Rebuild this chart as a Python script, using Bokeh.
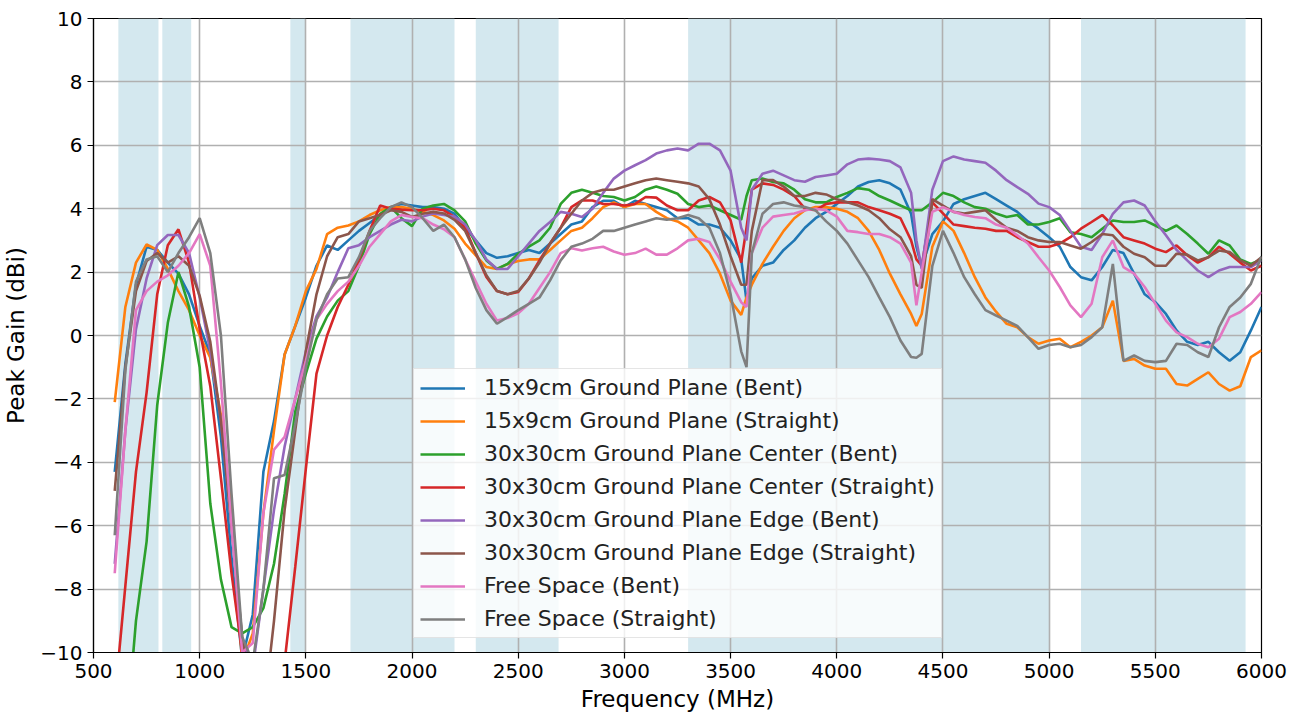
from bokeh.plotting import figure
from bokeh.models import BoxAnnotation, Legend, LegendItem, FixedTicker, Range1d
from bokeh.embed import file_html
from bokeh.resources import INLINE

freq = [600, 650, 700, 750, 800, 850, 900, 950, 1000, 1050,
        1100, 1150, 1200, 1250, 1300, 1350, 1400, 1450, 1500, 1550,
        1600, 1650, 1700, 1750, 1800, 1850, 1900, 1950, 2000, 2050,
        2100, 2150, 2200, 2250, 2300, 2350, 2400, 2450, 2500, 2550,
        2600, 2650, 2700, 2750, 2800, 2850, 2900, 2950, 3000, 3050,
        3100, 3150, 3200, 3250, 3300, 3350, 3400, 3450, 3500, 3550,
        3575, 3600, 3650, 3700, 3750, 3800, 3850, 3900, 3950, 4000,
        4050, 4100, 4150, 4200, 4250, 4300, 4350, 4375, 4400, 4450,
        4500, 4550, 4600, 4650, 4700, 4750, 4800, 4850, 4900, 4950,
        5000, 5050, 5100, 5150, 5200, 5250, 5300, 5350, 5400, 5450,
        5500, 5550, 5600, 5650, 5700, 5750, 5800, 5850, 5900, 5950,
        6000]

gp15_bent = [-4.3, -0.9, 1.6, 2.8, 2.7, 2.3, 1.95, 1.3, 0.3, -0.6,
             -3.2, -7.0, -10.2, -8.8, -4.3, -2.7, -0.6, 0.3, 1.2, 2.2,
             2.84, 2.7, 3.0, 3.3, 3.55, 3.8, 4.05, 4.15, 4.1, 4.05,
             4.05, 4.0, 3.84, 3.4, 3.0, 2.6, 2.45, 2.5, 2.6, 2.7,
             2.6, 2.9, 3.2, 3.5, 3.6, 4.05, 4.25, 4.25, 4.05, 4.25,
             4.15, 4.05, 3.95, 3.7, 3.7, 3.5, 3.5, 3.4, 3.0, 2.4,
             1.1, 1.8, 2.2, 2.3, 2.7, 3.0, 3.4, 3.7, 3.9, 4.15,
             4.4, 4.7, 4.84, 4.9, 4.8, 4.6, 3.84, 2.8, 2.16, 3.2,
             3.6, 4.15, 4.3, 4.4, 4.5, 4.3, 4.1, 3.9, 3.6, 3.37,
             3.1, 2.8, 2.16, 1.84, 1.74, 2.16, 2.7, 2.6, 1.95, 1.3,
             1.05, 0.68, 0.16, -0.2, -0.3, -0.2, -0.53, -0.8, -0.53, 0.16,
             0.9]

gp15_straight = [-2.1, 0.9, 2.3, 2.87, 2.7, 2.1, 1.4, 0.8, 0.0, -0.7,
                 -2.5, -5.5, -10.3, -9.4, -5.6, -3.0, -0.6, 0.3, 1.4, 2.1,
                 3.2, 3.4, 3.47, 3.6, 3.8, 3.95, 4.05, 4.05, 4.0, 3.9,
                 3.8, 3.63, 3.37, 2.9, 2.53, 2.16, 2.1, 2.25, 2.35, 2.4,
                 2.4, 2.7, 3.0, 3.3, 3.4, 3.7, 4.05, 4.2, 4.05, 4.15,
                 4.15, 3.9, 3.7, 3.6, 3.4, 3.0, 2.6, 1.95, 1.1, 0.65,
                 1.2, 1.6, 2.26, 2.8, 3.3, 3.7, 3.95, 4.05, 4.05, 4.0,
                 3.9, 3.7, 3.3, 2.7, 1.95, 1.3, 0.68, 0.3, 0.68, 2.8,
                 3.6, 3.3, 2.6, 1.84, 1.2, 0.75, 0.37, 0.26, -0.05, -0.26,
                 -0.16, -0.1, -0.37, -0.2, 0.0, 0.26, 1.1, -0.8, -0.74, -0.95,
                 -1.05, -1.05, -1.53, -1.58, -1.37, -1.16, -1.53, -1.74, -1.6, -0.68,
                 -0.47]

center_bent = [-16.0, -13.0, -9.0, -6.5, -2.2, 0.4, 2.0, 0.9, -1.0, -5.3,
               -7.7, -9.2, -9.4, -9.2, -8.6, -7.2, -5.0, -2.4, -1.2, -0.1,
               0.6, 1.1, 1.4, 2.2, 3.2, 3.84, 4.05, 3.7, 3.45, 4.0,
               4.1, 4.15, 3.95, 3.6, 2.9, 2.37, 2.1, 2.26, 2.58, 2.8,
               3.0, 3.4, 4.15, 4.5, 4.6, 4.5, 4.4, 4.37, 4.26, 4.37,
               4.6, 4.7, 4.6, 4.47, 4.15, 4.05, 4.1, 3.95, 3.8, 3.65,
               4.4, 4.9, 4.95, 4.84, 4.8, 4.6, 4.3, 4.2, 4.2, 4.37,
               4.5, 4.65, 4.6, 4.4, 4.26, 4.1, 3.95, 3.95, 3.95, 4.2,
               4.5, 4.4, 4.2, 4.05, 4.0, 3.85, 3.74, 3.8, 3.5, 3.5,
               3.58, 3.7, 3.26, 3.2, 3.1, 3.37, 3.63, 3.58, 3.58, 3.63,
               3.47, 3.3, 3.47, 3.2, 2.9, 2.58, 3.0, 2.84, 2.4, 2.26,
               2.4]

center_straight = [-11.5, -7.9, -4.3, -1.8, 1.3, 2.85, 3.35, 2.3, 0.2, -1.6,
                   -4.5, -7.5, -10.0, -14.0, -13.0, -11.5, -10.3, -7.3, -4.2, -1.2,
                   0.0, 0.9, 1.6, 2.4, 3.3, 4.1, 4.0, 3.97, 3.95, 3.95,
                   4.0, 3.95, 3.74, 3.4, 2.6, 1.85, 1.4, 1.3, 1.37, 1.8,
                   2.37, 2.9, 3.4, 4.05, 4.26, 4.26, 4.15, 4.15, 4.1, 4.15,
                   4.37, 4.35, 4.1, 3.95, 3.95, 4.26, 4.37, 4.2, 3.63, 2.3,
                   3.4, 4.6, 4.8, 4.75, 4.6, 4.4, 4.0, 3.95, 4.15, 4.2,
                   4.2, 4.2, 4.05, 3.95, 3.84, 3.7, 3.0, 2.4, 2.2, 4.2,
                   3.85, 3.5, 3.45, 3.4, 3.37, 3.3, 3.3, 3.1, 2.95, 2.8,
                   2.8, 2.9, 3.1, 3.37, 3.58, 3.8, 3.47, 3.1, 3.0, 2.9,
                   2.74, 2.63, 2.84, 2.53, 2.3, 2.47, 2.8, 2.58, 2.3, 2.05,
                   2.2]

edge_bent = [-7.2, -3.0, 0.2, 1.8, 2.85, 3.17, 3.17, 2.6, 1.2, -0.5,
             -2.7, -6.0, -9.6, -10.5, -8.0, -5.5, -3.5, -2.0, -0.5, 0.6,
             1.2, 2.0, 2.75, 2.85, 3.1, 3.3, 3.5, 3.65, 3.6, 3.75,
             3.85, 3.8, 3.75, 3.5, 3.0, 2.4, 2.1, 2.1, 2.5, 2.9,
             3.3, 3.58, 3.9, 3.84, 3.74, 4.0, 4.5, 4.95, 5.2, 5.37,
             5.53, 5.74, 5.84, 5.9, 5.84, 6.05, 6.05, 5.84, 5.2, 3.4,
             3.0, 4.6, 5.1, 5.2, 5.05, 4.9, 4.85, 5.0, 5.05, 5.1,
             5.4, 5.55, 5.58, 5.55, 5.5, 5.3, 4.5, 3.0, 2.1, 4.6,
             5.5, 5.65, 5.55, 5.5, 5.45, 5.2, 4.9, 4.68, 4.47, 4.16,
             4.05, 3.8, 3.3, 2.8, 2.7, 3.2, 3.84, 4.2, 4.26, 4.1,
             3.6, 3.16, 2.7, 2.37, 2.05, 1.84, 2.05, 2.16, 2.16, 2.16,
             2.37]

edge_straight = [-4.9, -1.0, 1.4, 2.35, 2.6, 2.3, 2.5, 2.2, 1.25, -0.2,
                 -2.7, -6.0, -9.5, -12.0, -12.0, -9.0, -5.5, -3.0, -0.5, 1.3,
                 2.5, 3.1, 3.2, 3.6, 3.7, 3.8, 3.95, 3.9, 3.74, 3.84,
                 3.9, 3.85, 3.65, 3.3, 2.6, 1.9, 1.4, 1.3, 1.4, 1.8,
                 2.3, 2.9, 3.4, 3.84, 4.26, 4.5, 4.6, 4.6, 4.7, 4.8,
                 4.9, 4.95, 4.9, 4.85, 4.8, 4.7, 4.3, 3.5, 2.5, 1.6,
                 1.6, 3.3, 4.9, 4.9, 4.7, 4.4, 4.4, 4.5, 4.45, 4.3,
                 4.2, 4.1, 3.95, 3.7, 3.35, 3.1, 2.5, 1.6, 1.5, 4.3,
                 4.1, 3.9, 3.85, 3.9, 3.95, 3.65, 3.4, 3.3, 3.1, 3.0,
                 2.95, 2.95, 2.84, 2.74, 2.95, 3.2, 3.16, 2.8, 2.58, 2.47,
                 2.2, 2.2, 2.58, 2.55, 2.37, 2.47, 2.68, 2.63, 2.37, 2.2,
                 2.47]

free_bent = [-7.5, -3.0, 0.8, 1.4, 1.7, 1.9, 2.2, 2.6, 3.2, 2.2,
             -1.5, -6.0, -10.0, -9.7, -5.6, -3.6, -3.2, -2.0, -0.8, 0.5,
             1.0, 1.4, 1.7, 2.2, 2.8, 3.2, 3.6, 3.8, 3.74, 3.7,
             3.5, 3.35, 3.1, 2.4, 1.7, 1.0, 0.47, 0.55, 0.7, 1.0,
             1.5, 2.0, 2.6, 2.75, 2.68, 2.75, 2.8, 2.65, 2.55, 2.6,
             2.74, 2.55, 2.55, 2.75, 3.0, 3.05, 2.95, 2.4, 1.7, 1.05,
             0.9, 2.6, 3.4, 3.75, 3.8, 3.85, 3.95, 4.0, 3.95, 3.75,
             3.3, 3.26, 3.2, 3.2, 3.1, 2.9, 2.3, 0.95, 2.0, 3.9,
             4.05, 3.9, 3.8, 3.74, 3.7, 3.5, 3.4, 3.16, 2.9, 2.47,
             2.05, 1.53, 0.95, 0.58, 1.0, 2.47, 3.0, 2.16, 1.95, 1.53,
             1.0, 0.47, 0.1, -0.05, -0.26, -0.37, -0.1, 0.58, 0.74, 1.0,
             1.37]

free_straight = [-6.3, -1.1, 1.7, 2.4, 2.5, 2.0, 2.6, 3.1, 3.7, 2.6,
                 0.0, -5.0, -9.5, -10.3, -8.0, -4.5, -4.4, -2.8, -1.0, 0.5,
                 1.3, 1.8, 1.84, 2.47, 3.3, 3.7, 4.05, 4.2, 4.05, 3.7,
                 3.3, 3.5, 3.1, 2.4, 1.5, 0.8, 0.37, 0.58, 0.8, 1.0,
                 1.2, 1.74, 2.37, 2.8, 2.9, 3.05, 3.3, 3.3, 3.4, 3.5,
                 3.6, 3.7, 3.65, 3.7, 3.8, 3.7, 3.4, 2.6, 1.3, -0.5,
                 -1.0, 2.6, 3.84, 4.15, 4.2, 4.1, 4.05, 3.95, 3.6, 3.3,
                 2.9, 2.37, 1.84, 1.2, 0.58, -0.16, -0.68, -0.7, -0.58, 2.2,
                 3.3, 2.6, 1.84, 1.3, 0.8, 0.63, 0.47, 0.3, -0.05, -0.42,
                 -0.3, -0.26, -0.37, -0.3, -0.05, 0.26, 2.26, -0.8, -0.63, -0.8,
                 -0.84, -0.8, -0.26, -0.3, -0.53, -0.68, 0.26, 0.9, 1.2, 1.63,
                 2.5]

labels = ["15x9cm Ground Plane (Bent)",
          "15x9cm Ground Plane (Straight)",
          "30x30cm Ground Plane Center (Bent)",
          "30x30cm Ground Plane Center (Straight)",
          "30x30cm Ground Plane Edge (Bent)",
          "30x30cm Ground Plane Edge (Straight)",
          "Free Space (Bent)",
          "Free Space (Straight)"]
series = [gp15_bent, gp15_straight, center_bent, center_straight,
          edge_bent, edge_straight, free_bent, free_straight]
colors = ["#1f77b4", "#ff7f0e", "#2ca02c", "#d62728",
          "#9467bd", "#8c564b", "#e377c2", "#7f7f7f"]

band_starts = [617, 824, 1427, 1710, 2300, 3300, 5150]
band_ends = [806, 960, 1496, 2200, 2690, 5000, 5925]

x_ticks = [500, 1000, 1500, 2000, 2500, 3000, 3500, 4000, 4500, 5000, 5500, 6000]
y_ticks = [-10, -8, -6, -4, -2, 0, 2, 4, 6, 8, 10]

FONT = "DejaVu Sans"

p = figure(width=1302, height=724, x_range=Range1d(500, 6000), y_range=Range1d(-10, 10),
           output_backend="svg", toolbar_location=None,
           min_border_left=93, min_border_right=41, min_border_top=18, min_border_bottom=72)

for a, b in zip(band_starts, band_ends):
    p.add_layout(BoxAnnotation(left=a, right=b, fill_color="#d4e8ef", fill_alpha=1.0,
                               line_alpha=0, level="image"))

p.xgrid.ticker = FixedTicker(ticks=x_ticks)
p.ygrid.ticker = FixedTicker(ticks=y_ticks)
p.grid.grid_line_color = "#b0b0b0"
p.grid.grid_line_width = 1.6

items = []
for lab, ys, c in zip(labels, series, colors):
    r = p.line(freq, ys, line_color=c, line_width=2.6)
    items.append(LegendItem(label=lab, renderers=[r]))

p.xaxis.ticker = FixedTicker(ticks=x_ticks)
p.yaxis.ticker = FixedTicker(ticks=y_ticks)
p.xaxis.axis_label = "Frequency (MHz)"
p.yaxis.axis_label = "Peak Gain (dBi)"
for ax in (p.xaxis, p.yaxis):
    ax.axis_label_text_font = FONT
    ax.axis_label_text_font_size = "23px"
    ax.axis_label_text_font_style = "normal"
    ax.axis_label_text_color = "black"
    ax.major_label_text_font = FONT
    ax.major_label_text_font_size = "20px"
    ax.major_label_text_color = "black"
    ax.major_tick_out = 6
    ax.major_tick_in = 0
    ax.minor_tick_out = 0
    ax.minor_tick_in = 0
    ax.axis_line_color = "black"
    ax.axis_line_width = 1.2
    ax.major_tick_line_color = "black"
    ax.major_tick_line_width = 1.2
    ax.major_label_standoff = 5
p.xaxis.axis_label_standoff = 5
p.yaxis.axis_label_standoff = 8

p.outline_line_color = "black"
p.outline_line_width = 1.2
p.outline_line_alpha = 1.0

legend = Legend(items=items, location=(320, 14), margin=0, padding=6,
                spacing=8, label_height=22, glyph_height=22, glyph_width=45,
                label_standoff=19, label_text_font=FONT, label_text_font_size="22px",
                label_text_color="#222222", border_line_color="#cccccc",
                border_line_width=1, background_fill_color="white",
                background_fill_alpha=0.8)
p.add_layout(legend)

open("out.html", "w").write(file_html(p, INLINE))
